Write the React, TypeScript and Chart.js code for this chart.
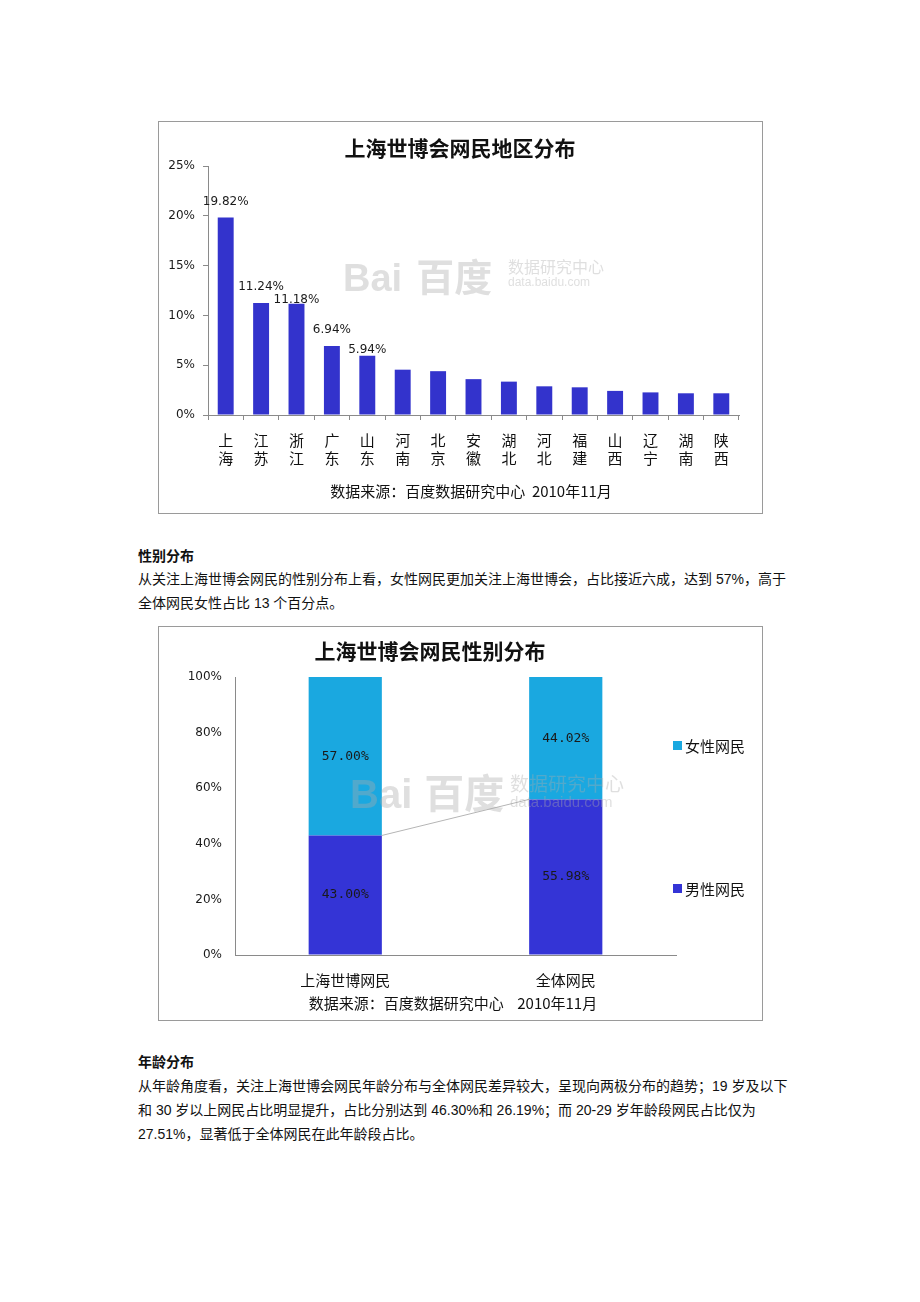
import React, { useEffect, useRef } from "react";
import { Chart, registerables } from "chart.js";

Chart.register(...registerables);

// ---------- Data: chart 1 (regions) ----------
const regionCategories: string[][] = [
  ["上", "海"], ["江", "苏"], ["浙", "江"], ["广", "东"], ["山", "东"],
  ["河", "南"], ["北", "京"], ["安", "徽"], ["湖", "北"], ["河", "北"],
  ["福", "建"], ["山", "西"], ["辽", "宁"], ["湖", "南"], ["陕", "西"],
];
const regionValues: number[] = [
  19.82, 11.24, 11.18, 6.94, 5.94, 4.55, 4.4, 3.6, 3.35, 2.88, 2.78, 2.42, 2.27, 2.18, 2.18,
];
const regionLabelCount = 5;
const regionTicks: number[] = [0, 5, 10, 15, 20, 25];

// ---------- Data: chart 2 (gender) ----------
const genderCategories: string[] = ["上海世博网民", "全体网民"];
const maleValues: number[] = [43.0, 55.98];
const femaleValues: number[] = [57.0, 44.02];
const genderTicks: number[] = [0, 20, 40, 60, 80, 100];
const legendNames: string[] = ["女性网民", "男性网民"];

// ---------- Texts ----------
const chart1Title = "上海世博会网民地区分布";
const chart2Title = "上海世博会网民性别分布";
const sourceLabel = "数据来源：百度数据研究中心";
const sourceDate = "2010年11月";
const genderHeading = "性别分布";
const genderLines = [
  "从关注上海世博会网民的性别分布上看，女性网民更加关注上海世博会，占比接近六成，达到 57%，高于",
  "全体网民女性占比 13 个百分点。",
];
const ageHeading = "年龄分布";
const ageLines = [
  "从年龄角度看，关注上海世博会网民年龄分布与全体网民差异较大，呈现向两极分布的趋势；19 岁及以下",
  "和 30 岁以上网民占比明显提升，占比分别达到 46.30%和 26.19%；而 20-29 岁年龄段网民占比仅为",
  "27.51%，显著低于全体网民在此年龄段占比。",
];

const BAR1 = "#3333cc";
const MALE = "#3434d6";
const FEMALE = "#1aa8e0";
const AXIS = "#8a8a8a";
const CJK = "'Noto Sans CJK SC', 'Liberation Sans', sans-serif";
const BODY = "'Liberation Sans', Arial, 'Noto Sans CJK SC', sans-serif";

const regionLabelPlugin = {
  id: "regionLabels",
  afterDatasetsDraw(chart: any) {
    const ctx = chart.ctx;
    const meta = chart.getDatasetMeta(0);
    ctx.save();
    ctx.font = "12px 'DejaVu Sans'";
    ctx.fillStyle = "#1a1a1a";
    ctx.textAlign = "center";
    ctx.textBaseline = "middle";
    const boxes: { x: number; y: number; w: number; t: string }[] = [];
    for (let i = 0; i < regionLabelCount; i++) {
      const bar = meta.data[i];
      const t = regionValues[i].toFixed(2) + "%";
      const w = ctx.measureText(t).width;
      let y = bar.y - 16;
      if (i > 0) {
        const p = boxes[i - 1];
        const hOverlap = Math.abs(bar.x - p.x) < (w + p.w) / 2;
        const vOverlap = Math.abs(y - p.y) < 13;
        if (hOverlap && vOverlap) y = Math.max(p.y + 13, bar.y - 6);
      }
      boxes.push({ x: bar.x, y, w, t });
    }
    boxes.forEach((b) => ctx.fillText(b.t, b.x, b.y));
    ctx.restore();
  },
};

const genderLabelPlugin = {
  id: "genderLabels",
  afterDatasetsDraw(chart: any) {
    const ctx = chart.ctx;
    ctx.save();
    // series line connecting the tops of the lower series
    const m0 = chart.getDatasetMeta(0);
    const a = m0.data[0];
    const b = m0.data[1];
    ctx.strokeStyle = "#b5b5b5";
    ctx.lineWidth = 1;
    ctx.beginPath();
    ctx.moveTo(a.x + a.width / 2, a.y);
    ctx.lineTo(b.x - b.width / 2, b.y);
    ctx.stroke();

    ctx.font = "13px 'DejaVu Sans Mono'";
    ctx.fillStyle = "#1a1a1a";
    ctx.textAlign = "center";
    ctx.textBaseline = "middle";
    chart.data.datasets.forEach((ds: any, di: number) => {
      const meta = chart.getDatasetMeta(di);
      meta.data.forEach((el: any, i: number) => {
        const v = ds.data[i] as number;
        ctx.fillText(v.toFixed(2) + "%", el.x, (el.y + el.base) / 2);
      });
    });
    ctx.restore();
  },
};

function T({
  x,
  cy,
  size = 14,
  bold = false,
  font = BODY,
  color = "#111",
  center = false,
  children,
}: any) {
  const lh = Math.round(size * 1.4);
  return (
    <div
      style={{
        position: "absolute",
        left: center ? x - 400 : x,
        width: center ? 800 : undefined,
        textAlign: center ? "center" : "left",
        top: cy - lh / 2,
        lineHeight: lh + "px",
        fontSize: size,
        fontWeight: bold ? 700 : 400,
        fontFamily: font,
        color,
        whiteSpace: "pre",
      }}
    >
      {children}
    </div>
  );
}

function Watermark({ left, top, big, small, tiny, gap, textLeft }: any) {
  const c = "rgba(170,170,170,0.38)";
  return (
    <div style={{ position: "absolute", left, top, pointerEvents: "none", whiteSpace: "pre", color: c }}>
      <span
        style={{
          position: "absolute",
          left: 0,
          top: 0,
          fontSize: big,
          lineHeight: big + "px",
          fontWeight: 700,
          fontFamily: BODY,
        }}
      >
        Bai
        <span style={{ display: "inline-block", width: gap }} />
        <span style={{ fontFamily: CJK }}>百度</span>
      </span>
      <span
        style={{
          position: "absolute",
          left: textLeft,
          top: big * 0.05,
          fontSize: small,
          lineHeight: small + "px",
          fontFamily: CJK,
        }}
      >
        数据研究中心
      </span>
      <span
        style={{
          position: "absolute",
          left: textLeft,
          top: big * 0.05 + small + 2,
          fontSize: tiny,
          lineHeight: tiny + "px",
          fontFamily: BODY,
        }}
      >
        data.baidu.com
      </span>
    </div>
  );
}

export default function App() {
  const c1 = useRef<HTMLCanvasElement>(null);
  const c2 = useRef<HTMLCanvasElement>(null);

  useEffect(() => {
    const ch1 = new Chart(c1.current as HTMLCanvasElement, {
      type: "bar",
      data: {
        labels: regionCategories as any,
        datasets: [
          {
            data: regionValues,
            backgroundColor: BAR1,
            barPercentage: 0.45,
            categoryPercentage: 1,
          },
        ],
      },
      options: {
        animation: false,
        responsive: false,
        maintainAspectRatio: false,
        layout: { padding: { top: 44, right: 23, left: 0, bottom: 0 } },
        plugins: { legend: { display: false }, tooltip: { enabled: false }, title: { display: false } },
        scales: {
          x: {
            ticks: {
              font: { family: CJK, size: 15, lineHeight: 1.15 },
              color: "#111",
              padding: 12,
              autoSkip: false,
              maxRotation: 0,
            },
            grid: { drawOnChartArea: false, tickLength: 5, color: AXIS, offset: true },
            border: { color: AXIS },
            afterFit: (s: any) => {
              s.height = 98;
            },
          },
          y: {
            min: 0,
            max: 25,
            afterBuildTicks: (s: any) => {
              s.ticks = regionTicks.map((v) => ({ value: v }));
            },
            ticks: {
              callback: (v: any) => v + "%",
              font: { family: "'DejaVu Sans'", size: 12 },
              color: "#1a1a1a",
              padding: 8,
            },
            grid: { drawOnChartArea: false, tickLength: 5, color: AXIS },
            border: { color: AXIS },
            afterFit: (s: any) => {
              s.width = 49;
            },
          },
        },
      },
      plugins: [regionLabelPlugin],
    } as any);

    const ch2 = new Chart(c2.current as HTMLCanvasElement, {
      type: "bar",
      data: {
        labels: genderCategories,
        datasets: [
          {
            label: legendNames[1],
            data: maleValues,
            backgroundColor: MALE,
            barPercentage: 0.332,
            categoryPercentage: 1,
          },
          {
            label: legendNames[0],
            data: femaleValues,
            backgroundColor: FEMALE,
            barPercentage: 0.332,
            categoryPercentage: 1,
          },
        ],
      },
      options: {
        animation: false,
        responsive: false,
        maintainAspectRatio: false,
        layout: { padding: { top: 50, right: 86, left: 0, bottom: 0 } },
        plugins: { legend: { display: false }, tooltip: { enabled: false }, title: { display: false } },
        scales: {
          x: {
            stacked: true,
            ticks: {
              font: { family: CJK, size: 15, lineHeight: 1.2 },
              color: "#111",
              padding: 16,
              autoSkip: false,
              maxRotation: 0,
            },
            grid: { drawOnChartArea: false, drawTicks: false, color: AXIS },
            border: { color: AXIS },
            afterFit: (s: any) => {
              s.height = 65;
            },
          },
          y: {
            stacked: true,
            min: 0,
            max: 100,
            afterBuildTicks: (s: any) => {
              s.ticks = genderTicks.map((v) => ({ value: v }));
            },
            ticks: {
              callback: (v: any) => v + "%",
              font: { family: "'DejaVu Sans'", size: 12 },
              color: "#1a1a1a",
              padding: 13,
            },
            grid: { drawOnChartArea: false, drawTicks: false, color: AXIS },
            border: { color: AXIS },
            afterFit: (s: any) => {
              s.width = 76;
            },
          },
        },
      },
      plugins: [genderLabelPlugin],
    } as any);

    return () => {
      ch1.destroy();
      ch2.destroy();
    };
  }, []);

  const frame = (left: number, top: number, w: number, h: number): React.CSSProperties => ({
    position: "absolute",
    left,
    top,
    width: w,
    height: h,
    border: "1px solid #9a9a9a",
    boxSizing: "border-box",
    background: "#fff",
  });

  return (
    <div style={{ position: "absolute", left: 0, top: 0, width: 920, height: 1302, background: "#fff" }}>
      {/* Chart 1 */}
      <div style={frame(158, 121, 605, 393)}>
        <canvas
          ref={c1}
          width={603}
          height={391}
          style={{ position: "absolute", left: 0, top: 0, width: 603, height: 391 }}
        />
        <Watermark left={184} top={134} big={38} small={16} tiny={12} gap={14} textLeft={165} />
      </div>
      <T x={460} cy={147} size={21} bold font={CJK} center>
        {chart1Title}
      </T>
      <T x={471} cy={490} size={15} font={CJK} center>
        {sourceLabel + "  " + sourceDate}
      </T>

      {/* Gender text */}
      <T x={138} cy={556} bold>
        {genderHeading}
      </T>
      <T x={138} cy={579}>
        {genderLines[0]}
      </T>
      <T x={138} cy={603}>
        {genderLines[1]}
      </T>

      {/* Chart 2 */}
      <div style={frame(158, 626, 605, 395)}>
        <canvas
          ref={c2}
          width={603}
          height={393}
          style={{ position: "absolute", left: 0, top: 0, width: 603, height: 393 }}
        />
        <Watermark left={191} top={144} big={40} small={19} tiny={15} gap={12} textLeft={160} />
      </div>
      <T x={430} cy={650} size={21} bold font={CJK} center>
        {chart2Title}
      </T>
      <T x={453} cy={1002} size={15} font={CJK} center>
        {sourceLabel + "    " + sourceDate}
      </T>
      {/* Legend */}
      <div style={{ position: "absolute", left: 673, top: 741, width: 9, height: 9, background: FEMALE }} />
      <T x={685} cy={745} size={15} font={CJK}>
        {legendNames[0]}
      </T>
      <div style={{ position: "absolute", left: 673, top: 884, width: 9, height: 9, background: MALE }} />
      <T x={685} cy={888} size={15} font={CJK}>
        {legendNames[1]}
      </T>

      {/* Age text */}
      <T x={138} cy={1062} bold>
        {ageHeading}
      </T>
      {ageLines.map((l, i) => (
        <T key={i} x={138} cy={1086 + i * 24}>
          {l}
        </T>
      ))}
    </div>
  );
}
